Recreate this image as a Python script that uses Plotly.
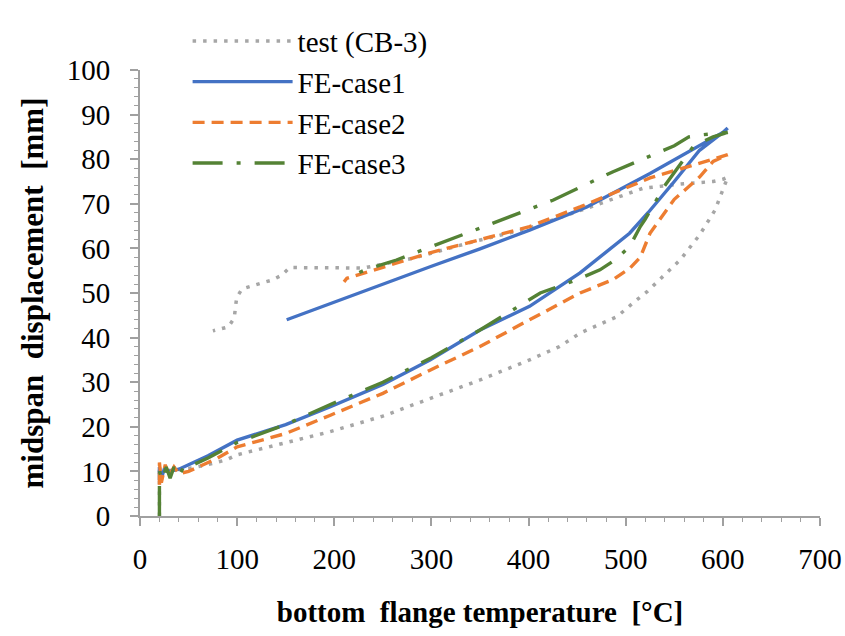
import plotly.graph_objects as go

# ---- data ----
test_x = [20, 20, 35, 55, 75, 89, 99.5, 150, 195.6, 250, 298.5, 350, 401, 432, 453, 491, 511, 522, 556, 576, 592, 602, 605,
          600, 590, 560, 518, 460, 400, 343, 281, 230, 196, 154, 146, 136, 126, 115, 105, 99.5, 98, 97, 91, 80, 75]
test_y = [0, 10, 10.3, 10.8, 11.8, 12.6, 13.7, 16.4, 18.9, 22.4, 26.4, 30.5, 35, 38, 41, 44.7, 48.4, 50.3, 57.4, 63, 68.6, 74, 76,
          75.5, 75, 74.5, 73.5, 69, 64.5, 61.5, 57.8, 55.6, 55.6, 55.7, 54, 52.9, 52.3, 51.6, 50.9, 49, 46.6, 44.4, 42.4, 41.7, 41.5]

case1_x = [20, 20, 22, 25, 30, 40, 50, 70, 100, 150, 196, 250, 298.5, 350, 401, 453, 504, 523, 550, 576, 600, 605,
           600, 525, 460, 401, 350, 300, 250, 200, 151]
case1_y = [8, 11, 8.5, 10.5, 10, 10.5, 11.5, 13.5, 17, 20.5, 24.5, 29.5, 35, 41.7, 47, 54.5, 63.4, 68, 75, 82, 86, 87,
           86, 76.8, 69.3, 64.1, 59.9, 56, 52, 47.9, 44]

case2_x = [20, 20, 22, 26, 30, 35, 40, 50, 60, 80, 100, 150, 196, 250, 298.5, 350, 401, 453, 487, 504, 515, 525, 550,
           576, 590, 605, 590, 560, 525, 453, 401, 298.5, 213, 210]
case2_y = [7, 12, 7.5, 11.5, 9, 11, 9.5, 10, 11, 13, 15.5, 18.5, 22.6, 27.5, 32.7, 38, 44, 50, 53, 55.5, 58, 63.4, 71,
           76, 79.5, 81, 80, 78, 75.8, 69.3, 64.9, 59, 53.3, 52.5]

case3_x = [20, 20, 23, 27, 31, 35, 40, 45, 50, 70, 100, 150, 196, 250, 300, 350, 412, 450, 473.5, 489, 504, 515, 520,
           540, 560, 570, 590, 605, 580, 565, 550, 511, 487, 425, 391, 326, 264, 233, 218]
case3_y = [0, 10, 8, 11, 8.5, 11, 9, 11, 11, 13, 16.5, 20.5, 25, 30, 35.5, 41.7, 50, 53, 55.2, 57.4, 60.4, 64.9, 66.5,
           74, 80, 83, 85, 86, 85.5, 85, 83, 79.4, 77.2, 70.8, 68, 62.5, 57.4, 55.3, 53.8]

names = ["test (CB-3)", "FE-case1", "FE-case2", "FE-case3"]
colors = ["#A6A6A6", "#4472C4", "#ED7D31", "#548235"]
dashes = ["3.5px,7px", "solid", "12px,7px", "30px,14px,4px,14px"]
widths = [3.5, 3.4, 3.4, 3.4]

x_ticks = [0, 100, 200, 300, 400, 500, 600, 700]
y_ticks = [0, 10, 20, 30, 40, 50, 60, 70, 80, 90, 100]

FONT = "Liberation Serif, Times New Roman, serif"
AXC = "#A0A0A0"

fig = go.Figure()
series = [(test_x, test_y), (case1_x, case1_y), (case2_x, case2_y), (case3_x, case3_y)]
for (xs, ys), n, c, d, w in zip(series, names, colors, dashes, widths):
    fig.add_trace(go.Scatter(x=xs, y=ys, name=n, mode="lines",
                             line=dict(color=c, width=w, dash=d)))

common_x = dict(range=[0, 700], tickvals=x_ticks, showgrid=False, zeroline=False, automargin=False,
                showline=True, linecolor=AXC, linewidth=2, tickcolor=AXC, tickwidth=1.5,
                minor=dict(dtick=20, ticklen=4, tickcolor=AXC, tickwidth=1.2, showgrid=False))
common_y = dict(range=[0, 100], tickvals=y_ticks, showgrid=False, zeroline=False, automargin=False,
                showline=True, linecolor=AXC, linewidth=2, tickcolor=AXC, tickwidth=1.5,
                minor=dict(dtick=2, ticklen=4, tickcolor=AXC, tickwidth=1.2, showgrid=False))

fig.update_layout(
    width=845, height=636,
    margin=dict(l=140, r=25, t=70, b=120),
    paper_bgcolor="white", plot_bgcolor="white",
    font=dict(family=FONT, color="black", size=28),
    showlegend=True,
    legend=dict(x=0.07, y=1.122, xanchor="left", yanchor="top",
                bgcolor="rgba(0,0,0,0)", font=dict(size=29, family=FONT),
                itemwidth=100, tracegroupgap=0),
    xaxis=dict(**common_x, ticks="outside", ticklen=8,
               tickfont=dict(size=29, family=FONT),
               title=dict(text="<b>bottom\u00a0\u00a0flange temperature\u00a0\u00a0[°C]</b>",
                          font=dict(size=29, family=FONT), standoff=28),
               ticklabelstandoff=8),
    yaxis=dict(**common_y, ticks="outside", ticklen=8,
               tickfont=dict(size=29, family=FONT),
               title=dict(text="<b>midspan\u00a0\u00a0displacement\u00a0\u00a0[mm]</b>",
                          font=dict(size=31, family=FONT), standoff=14),
               ticklabelstandoff=14),
    xaxis2=dict(**common_x, overlaying="x", anchor="y", side="bottom", ticks="inside",
                ticklen=8, showticklabels=False),
    yaxis2=dict(**common_y, overlaying="y", anchor="x", side="left", ticks="inside",
                ticklen=8, showticklabels=False),
)
fig.update_layout(xaxis2_minor_ticks="inside", yaxis2_minor_ticks="inside",
                  xaxis_minor_ticks="outside", yaxis_minor_ticks="outside")

fig.write_html("out.html")
